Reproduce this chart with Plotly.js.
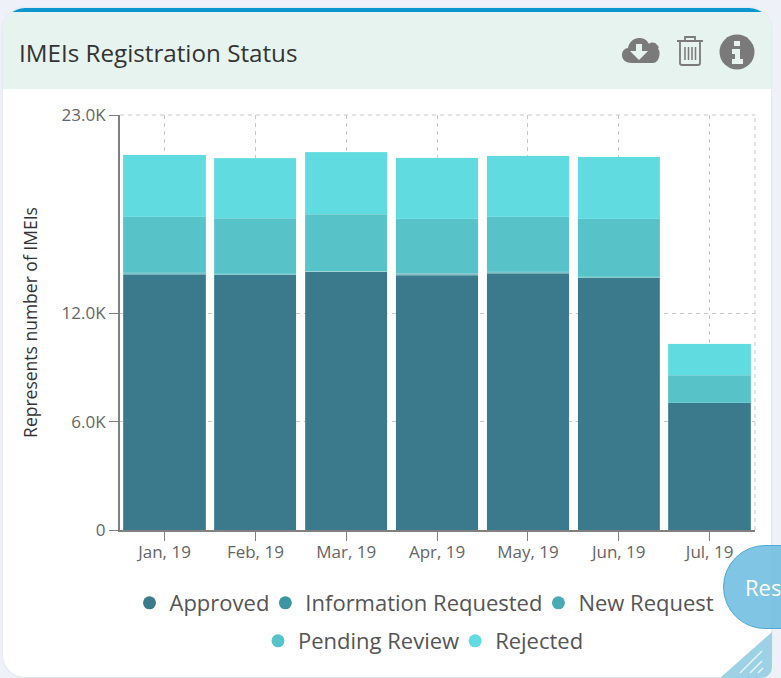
<!DOCTYPE html>
<html>
<head>
<meta charset="utf-8">
<script src="https://cdn.plot.ly/plotly-3.0.1.min.js"></script>
<style>
html,body{margin:0;padding:0;width:781px;height:678px;overflow:hidden;background:#eef2f8}
#card{position:absolute;left:3px;top:8px;width:768px;height:669px;background:#fff;border-radius:22px;overflow:hidden;box-shadow:0 0 3px #d5deea}
#bar{position:absolute;left:0;top:0;width:100%;height:4px;background:#0b96cf}
#head{position:absolute;left:0;top:4px;width:100%;height:77px;background:#e7f3ef}
#chart{position:absolute;left:0;top:0;width:781px;height:678px}
#icons{position:absolute;left:620px;top:32px;width:140px;height:40px}
#res{position:absolute;left:723px;top:545px;width:100px;height:84px;border-radius:42px;background:rgba(100,185,222,.82);border:1px solid #4ea9d6;box-sizing:border-box;color:#fff;font:22px "Open Sans",sans-serif;line-height:82px;padding-left:21px;overflow:hidden}
#corner{position:absolute;left:720px;top:630px;width:52px;height:48px}
</style>
</head>
<body>
<div id="card"><div id="bar"></div><div id="head"></div></div>
<div id="chart"></div>
<svg id="icons" viewBox="0 0 140 40">
  <path fill="#7a7a7a" d="M12 31c-6 0-10-3-10-8 0-4 3-7 6-7 1-6 6-10 11-10 5 0 8 2 10 6 2-2 6-2 8 1 2 1 2 3 1 4 3 1 2 14-5 14z"/>
  <path fill="#e7f3ef" d="M16 12h6v7h6l-9 9-9-9h6z"/>
  <g fill="none" stroke="#7a7a7a" stroke-width="1.8">
    <path d="M57 9h26M65 9V5h10v4M60 9v22q0 2 2 2h16q2 0 2-2V9"/>
    <path d="M65 15v13M68.500 15v13M72 15v13M75.500 15v13" stroke-width="1.500"/>
  </g>
  <circle cx="117" cy="20" r="17.500" fill="#7a7a7a"/>
  <path fill="#e7f3ef" d="M114 9h6v5h-6zM112 17h8v10h3v5h-11v-5h3v-5h-3z"/>
</svg>
<div id="res">Res</div>
<svg id="corner" viewBox="0 0 52 48">
  <path fill="#9dd2e6" d="M0 48L52 2V36q0 12-12 12z"/>
  <path stroke="#e6f4fa" stroke-width="1.500" d="M20 43L42 21M30 43L42 31M38 43L43 38"/>
</svg>
<script>
const months = ["Jan, 19","Feb, 19","Mar, 19","Apr, 19","May, 19","Jun, 19","Jul, 19"];
const approved  = [14150,14150,14320,14130,14200,13980,7040];
const infoReq   = [60,30,10,50,60,30,10];
const newReq    = [60,20,0,40,60,30,0];
const pending   = [3080,3080,3170,3040,3030,3220,1540];
const rejected  = [3450,3320,3440,3370,3390,3420,1740];
const tickVals  = [0,6000,12000,23000];
const tickText  = ["0","6.0K","12.0K","23.0K"];
const seriesNames  = ["Approved","Information Requested","New Request","Pending Review","Rejected"];
const seriesValues = [approved,infoReq,newReq,pending,rejected];
const barColors    = ["#3b7a8c","#5fa3ad","#72b7bf","#57c2c8","#60dce0"];
const legendColors = ["#3b7a8c","#3f96a3","#4aabb5","#55c4c9","#5edcdf"];
const legendRows   = ["legend","legend","legend","legend2","legend2"];

const bars = seriesNames.map((n,i)=>({
  type:"bar", name:n, x:months, y:seriesValues[i], showlegend:false,
  marker:{color:barColors[i], line:{color:"rgba(190,240,242,0.4)",width:0.5}}, hoverinfo:"x+y+name"
}));
const keys = seriesNames.map((n,i)=>({
  type:"scatter", mode:"markers", name:n, x:[null], y:[null], legend:legendRows[i],
  marker:{color:legendColors[i], size:13, symbol:"circle"}
}));
const legendBase = {orientation:"h", xref:"container", yref:"container", xanchor:"center", yanchor:"middle",
  bgcolor:"rgba(0,0,0,0)", itemsizing:"trace", itemwidth:30, traceorder:"normal", indentation:-9,
  font:{family:"Open Sans",size:22,color:"#555"}};
const gridDash = "4px,4px";
const gridColor = "#c8c8c8";
const layout = {
  width:781, height:678, paper_bgcolor:"rgba(0,0,0,0)", plot_bgcolor:"rgba(0,0,0,0)",
  margin:{l:120,r:26,t:115,b:148,pad:0}, barmode:"stack", bargap:0.095,
  font:{family:"Open Sans"},
  title:{text:"IMEIs Registration Status", xref:"container", yref:"container", x:19/781, y:1-54/678,
    xanchor:"left", yanchor:"middle", font:{family:"Open Sans",size:24.2,color:"#333"}},
  xaxis:{type:"category", categoryorder:"array", categoryarray:months, tickmode:"array", tickvals:months,
    range:[-0.49,6.5],
    showline:true, linecolor:"#808080", linewidth:1.5, ticks:"outside", ticklen:9, tickcolor:"#808080",
    ticklabelstandoff:-3,
    showgrid:true, gridcolor:gridColor, griddash:gridDash, gridwidth:1,
    tickfont:{family:"Open Sans",size:17,color:"#666"}, zeroline:false, fixedrange:true},
  yaxis:{range:[0,23000], tickmode:"array", tickvals:tickVals, ticktext:tickText,
    showline:true, linecolor:"#808080", linewidth:2, ticks:"outside", ticklen:9, tickcolor:"#808080",
    showgrid:true, gridcolor:gridColor, griddash:gridDash, gridwidth:1, zeroline:false,
    tickfont:{family:"Open Sans",size:17,color:"#666"}, fixedrange:true,
    title:{text:"Represents number of IMEIs", standoff:19, font:{family:"Open Sans",size:17.5,color:"#333"}}},
  shapes:[
    {type:"line",xref:"paper",yref:"paper",x0:1,x1:1,y0:0,y1:1,layer:"below",line:{color:gridColor,width:1,dash:"4px,4px"}},
    {type:"line",xref:"paper",yref:"paper",x0:0,x1:1,y0:1,y1:1,layer:"below",line:{color:gridColor,width:1,dash:"4px,4px"}}
  ],
  legend:Object.assign({x:429/781,y:1-603/678},legendBase),
  legend2:Object.assign({x:428/781,y:1-641/678},legendBase)
};
Plotly.newPlot("chart",bars.concat(keys),layout,{displayModeBar:false,responsive:false});
</script>
</body>
</html>
